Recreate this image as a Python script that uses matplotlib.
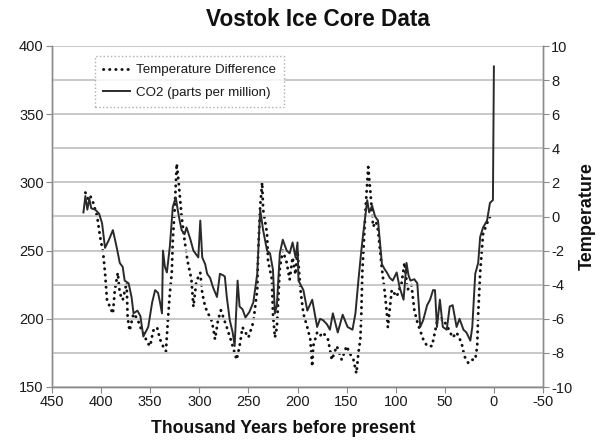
import matplotlib
matplotlib.use("Agg")
import matplotlib.pyplot as plt
import numpy as np

plt.rcParams['font.family'] = ['Liberation Sans', 'DejaVu Sans']
plt.rcParams['axes.unicode_minus'] = False

# CO2 (ppm) vs age (thousand years before present)
co2_age = [418, 416, 414, 412, 410, 406, 402, 399, 396, 392, 388, 384, 381, 378, 376, 372,
           369, 367, 363, 360, 357, 352, 348, 345, 342, 340, 338, 337, 335, 333, 330, 327,
           324, 322, 320, 318, 315, 313, 309, 306, 303, 301, 299, 297, 294, 292, 289, 286,
           282, 279, 276, 274, 272, 269, 266, 264, 261, 259, 256, 253, 249, 245, 241, 238,
           235, 231, 228, 225, 223, 221, 218, 215, 211, 208, 205, 202, 200, 199, 194, 190,
           185, 180, 177, 174, 170, 167, 164, 159, 154, 149, 144, 141, 138, 135, 133, 131,
           129, 127, 124, 121, 118, 116, 114, 111, 109, 106, 103, 99, 96, 92, 89, 87,
           85, 81, 78, 75, 72, 68, 65, 62, 60, 58, 55, 52, 48, 45, 42, 38,
           35, 31, 28, 24, 22, 19, 16, 14, 11, 7, 4, 1, 0]
co2_ppm = [278, 290, 280, 288, 281, 280, 277, 270, 252, 258, 265, 252, 241, 238, 228, 226,
           216, 204, 206, 202, 187, 194, 212, 221, 219, 212, 204, 250, 238, 234, 253, 282,
           289, 280, 272, 265, 262, 267, 258, 250, 247, 245, 272, 245, 240, 233, 230, 223,
           216, 233, 232, 231, 216, 199, 190, 180, 228, 209, 207, 201, 205, 212, 233, 280,
           265, 250, 248, 236, 204, 210, 248, 258, 250, 248, 256, 245, 256, 228, 221, 206,
           214, 194, 200, 199, 196, 192, 204, 190, 203, 194, 192, 204, 228, 250, 263, 275,
           287, 278, 283, 275, 272, 256, 240, 236, 234, 230, 228, 234, 223, 214, 241, 232,
           228, 229, 226, 194, 199, 210, 214, 221, 221, 194, 214, 194, 192, 209, 210, 194,
           200, 192, 190, 184, 194, 233, 241, 260, 267, 272, 285, 287, 385]

# Temperature difference (deg C) vs age
temp_age = [416, 413, 411, 408, 404, 401, 398, 396, 394, 391, 388, 386, 383, 381, 378, 374,
            373, 371, 367, 363, 360, 357, 353, 350, 347, 343, 340, 337, 334, 332, 330, 328,
            327, 325, 323, 321, 318, 315, 312, 308, 306, 303, 299, 297, 294, 291, 288, 286,
            284, 281, 278, 275, 272, 267, 264, 262, 259, 256, 253, 250, 245, 241, 240, 238,
            236, 235, 231, 230, 226, 225, 223, 221, 220, 218, 215, 211, 208, 205, 202, 200,
            197, 194, 190, 187, 185, 184, 180, 177, 174, 169, 165, 160, 155, 150, 147, 143,
            140, 138, 136, 135, 134, 132, 130, 128, 126, 123, 120, 118, 114, 111, 109, 108,
            104, 99, 94, 91, 88, 84, 81, 78, 75, 72, 68, 63, 58, 54, 50, 47,
            42, 38, 33, 30, 26, 22, 19, 17, 16, 14, 12, 11, 7, 4, 1]
temp_diff = [1.4, 1.0, 1.2, 0.8, 0.0, -1.2, -2.1, -3.3, -4.9, -5.3, -5.7, -4.3, -3.3, -4.5, -4.9, -3.9,
             -5.9, -6.7, -5.7, -6.0, -6.5, -6.8, -7.4, -7.6, -6.7, -6.5, -7.2, -7.6, -7.9, -6.1, -4.5, -3.3,
             -1.4, 0.5, 3.1, 2.0, 0.0, -1.4, -2.6, -3.7, -5.3, -3.8, -3.3, -4.5, -5.3, -5.7, -6.0, -6.5,
             -7.2, -6.1, -5.5, -6.0, -6.5, -7.4, -8.0, -8.4, -7.6, -6.5, -6.8, -7.1, -6.2, -4.3, -2.0, 0.6,
             2.0, 0.4, -1.0, -2.6, -3.7, -5.7, -7.1, -6.5, -5.3, -3.0, -2.0, -2.7, -3.7, -2.4, -3.4, -2.0,
             -4.3, -5.7, -6.5, -7.2, -8.8, -7.6, -6.8, -7.0, -6.8, -7.2, -8.4, -7.6, -8.4, -7.6, -8.0, -8.4,
             -9.2, -8.0, -7.2, -5.7, -3.3, -1.0, 1.1, 2.9, 1.6, -0.6, -0.3, -0.8, -3.1, -4.5, -5.7, -6.5,
             -4.3, -4.7, -3.9, -2.7, -4.3, -4.0, -5.5, -6.2, -6.7, -7.2, -7.6, -7.6, -6.2, -6.0, -6.2, -6.5,
             -7.1, -6.8, -7.4, -8.2, -8.6, -8.4, -8.4, -7.6, -5.7, -3.3, -1.8, -1.0, -0.4, 0.0, 0.0]

x_ticks = [450, 400, 350, 300, 250, 200, 150, 100, 50, 0, -50]
co2_ticks = [150, 200, 250, 300, 350, 400]
temp_ticks = [-10, -8, -6, -4, -2, 0, 2, 4, 6, 8, 10]

fig = plt.figure(figsize=(5.97, 4.44), dpi=100)
ax1 = fig.add_axes([52/597, 1-387/444, (543-52)/597, (387-46)/444])
ax2 = ax1.twinx()

grid_c = '#c4c4c4'
spine_c = '#8a8a8a'
text_c = '#1a1a1a'

ax1.set_xlim(450, -50)
ax1.set_ylim(150, 400)
ax2.set_ylim(-10, 10)

ax1.set_xticks(x_ticks)
ax1.set_xticklabels([str(t) for t in x_ticks])
ax1.set_yticks(co2_ticks)
ax1.set_yticks(np.arange(175, 400, 50), minor=True)
ax2.set_yticks(temp_ticks)

ax1.grid(axis='y', which='both', color=grid_c, linewidth=1.3)
ax1.set_axisbelow(True)

for ax in (ax1, ax2):
    for s in ax.spines.values():
        s.set_color(spine_c)
        s.set_linewidth(1.0)
    ax.spines['top'].set_visible(False)

ax1.tick_params(axis='both', which='major', direction='out', length=4, color=spine_c,
                labelsize=10.5, labelcolor=text_c, pad=2)
ax1.tick_params(axis='y', which='minor', length=0)
ax2.tick_params(axis='y', direction='out', length=4, color=spine_c,
                labelsize=10.5, labelcolor=text_c, pad=2)

l2, = ax2.plot(temp_age, temp_diff, color='#111111', linewidth=2.1,
               linestyle=(0, (0.1, 2.0)), dash_capstyle='round', solid_capstyle='round',
               label='Temperature Difference', zorder=3)
l1, = ax1.plot(co2_age, co2_ppm, color='#2a2a2a', linewidth=1.4, label='CO2 (parts per million)',
               zorder=4)
ax1.set_zorder(ax2.get_zorder() + 1)
ax1.patch.set_visible(False)

leg = ax1.legend([l2, l1], ['Temperature Difference', 'CO2 (parts per million)'],
                 loc='upper left', bbox_to_anchor=(43/491, 1 - 10/341), fontsize=9.6,
                 frameon=True, fancybox=False, handlelength=2.0, handletextpad=0.5,
                 borderpad=0.6, labelspacing=0.75, borderaxespad=0)
fr = leg.get_frame()
fr.set_edgecolor('#9a9a9a')
fr.set_linestyle(':')
fr.set_linewidth(1.0)
fr.set_facecolor('white')
for t in leg.get_texts():
    t.set_color(text_c)

fig.text(318/597, 1 - 19/444, 'Vostok Ice Core Data', ha='center', va='center',
         fontsize=16.3, fontweight='bold', color='#111111')
fig.text(283/597, 1 - 428/444, 'Thousand Years before present', ha='center',
         va='center', fontsize=12.7, fontweight='bold', color='#111111')
fig.text(596/597, 1 - 216/444, 'Temperature', rotation=90, ha='right', va='center',
         fontsize=13, fontweight='bold', color='#111111')

fig.savefig('out.png', dpi=100)
